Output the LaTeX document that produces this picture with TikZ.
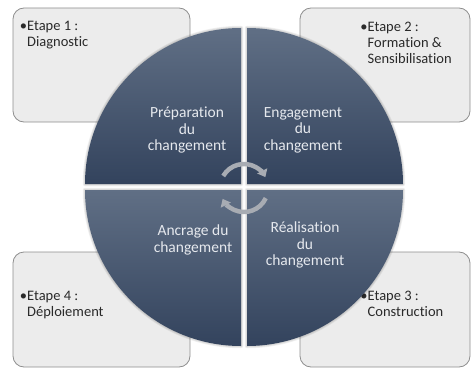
\documentclass[tikz,border=0pt]{standalone}
\usepackage{fontspec}
\setmainfont{Carlito}[RawFeature=-liga]
\usetikzlibrary{arrows.meta}
\definecolor{qtop}{HTML}{606F85}
\definecolor{qbot}{HTML}{33435D}
\definecolor{qtxt}{HTML}{E6E9EE}
\definecolor{boxfill}{HTML}{ECECEC}
\definecolor{boxline}{HTML}{8E8E8E}
\definecolor{btxt}{HTML}{2A2A2A}
\definecolor{arrowgray}{HTML}{A8ACB3}
\begin{document}
\begin{tikzpicture}[x=1pt,y=-1pt,
  stepbox/.style={draw=boxline, fill=boxfill, rounded corners=11pt, line width=0.8pt, inner sep=0pt},
  quad/.style={top color=qtop, bottom color=qbot},
  qshadow/.style={draw=black, opacity=0.06, line join=round},
  qtext/.style={text=qtxt, align=center, inner sep=0pt, font=\fontsize{15.5}{16.5}\selectfont},
  btext/.style={text=btxt, align=left, anchor=north west, inner sep=0pt, font=\fontsize{14.5}{16}\selectfont},
  cyc/.style={draw=arrowgray, line width=4.5pt, -{Triangle[width=11pt,length=7pt]}}]
\useasboundingbox (0,0) rectangle (471,369);
% boxes
\node[stepbox, minimum width=177pt, minimum height=114pt] (b1) at (101.5,65) {};
\node[stepbox, minimum width=170pt, minimum height=114pt] (b2) at (385,65) {};
\node[stepbox, minimum width=170pt, minimum height=115pt] (b3) at (385,309.5) {};
\node[stepbox, minimum width=177pt, minimum height=115pt] (b4) at (101.5,309.5) {};
% box texts
\node[btext] (t1) at (27,20.5) {\llap{•}Etape 1 :\\Diagnostic};
\node[btext] (t2) at (367.5,21.5) {\llap{•}Etape 2 :\\Formation \&\\Sensibilisation};
\node[btext] (t3) at (367.5,291) {\llap{•}Etape 3 :\\Construction};
\node[btext] (t4) at (27,291) {\llap{•}Etape 4 :\\Déploiement};
% shadows of the quadrants
\foreach \w in {1.5,3,4.5}{
  \draw[qshadow, line width=\w pt] (241,184) -- ++(-156,0) arc[start angle=180,end angle=270,radius=156] -- cycle;
  \draw[qshadow, line width=\w pt] (247,184) -- ++(0,-156) arc[start angle=270,end angle=360,radius=156] -- cycle;
  \draw[qshadow, line width=\w pt] (247,190) -- ++(156,0) arc[start angle=0,end angle=90,radius=156] -- cycle;
  \draw[qshadow, line width=\w pt] (241,190) -- ++(0,156) arc[start angle=90,end angle=180,radius=156] -- cycle;
}
% quadrants
\path[quad] (241,184) -- ++(-156,0) arc[start angle=180,end angle=270,radius=156] -- cycle;
\path[quad] (247,184) -- ++(0,-156) arc[start angle=270,end angle=360,radius=156] -- cycle;
\path[quad] (247,190) -- ++(156,0) arc[start angle=0,end angle=90,radius=156] -- cycle;
\path[quad] (241,190) -- ++(0,156) arc[start angle=90,end angle=180,radius=156] -- cycle;
% quadrant texts
\node[qtext] (q1) at (187,130) {Préparation\\du\\changement};
\node[qtext] (q2) at (303,130) {Engagement\\du\\changement};
\node[qtext] (q3) at (305,245) {Réalisation\\du\\changement};
\node[qtext] (q4) at (193,240) {Ancrage du\\changement};
% cycle arrows
\coordinate (c) at (244,188);
\draw[cyc] (c) ++(-150:24) arc[start angle=-150,end angle=-27,radius=24];
\draw[cyc] (c) ++(25:24) arc[start angle=25,end angle=153,radius=24];
\end{tikzpicture}
\end{document}
